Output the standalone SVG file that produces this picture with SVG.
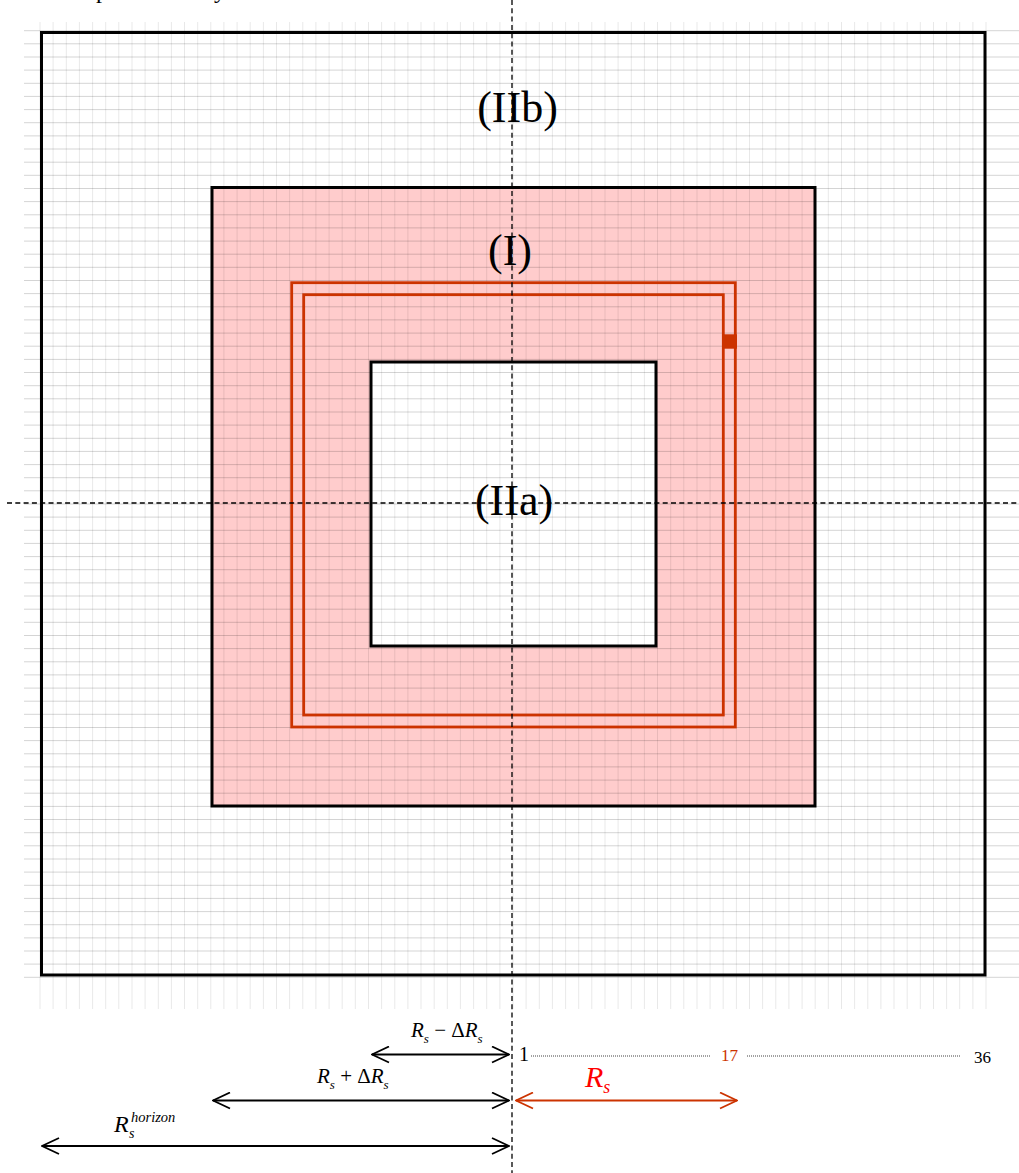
<svg xmlns="http://www.w3.org/2000/svg" width="1019" height="1173" viewBox="0 0 1019 1173">
<style>
.box{fill:none;stroke:#000;stroke-width:3}
.red{fill:none;stroke:#cc3300;stroke-width:2.8}
.gv{fill:none;stroke:#000;stroke-opacity:0.09;stroke-width:1}
.gh{fill:none;stroke:#000;stroke-opacity:0.17;stroke-width:1}
.axis{fill:none;stroke:#000;stroke-width:1.3;stroke-dasharray:5 3.3}
.big{font-family:"Liberation Serif",serif;font-size:44px;fill:#000;text-anchor:middle}
.lbl{font-family:"Liberation Serif",serif}
.it{font-style:italic}
.arr{fill:none;stroke:#000;stroke-width:2}
.arrR{fill:none;stroke:#cc3300;stroke-width:2}
.dot{fill:none;stroke:#444;stroke-width:1;stroke-dasharray:1 1}
</style>
<defs>
<marker id="hk" viewBox="-18 -9 19 18" refX="0" refY="0" markerWidth="19" markerHeight="18" markerUnits="userSpaceOnUse" orient="auto-start-reverse">
<path d="M-17,-8 L0,0 L-17,8" fill="none" stroke="#000" stroke-width="1.8"/>
</marker>
<marker id="hr" viewBox="-18 -9 19 18" refX="0" refY="0" markerWidth="19" markerHeight="18" markerUnits="userSpaceOnUse" orient="auto-start-reverse">
<path d="M-17,-8 L0,0 L-17,8" fill="none" stroke="#cc3300" stroke-width="1.8"/>
</marker>
</defs>
<rect width="1019" height="1173" fill="#fff"/>
<text class="lbl" style="font-size:24px;fill:#000" x="96" y="-2">p</text>
<text class="lbl" style="font-size:24px;fill:#000" x="214" y="-2">y</text>
<g id="region-I-fill">
<rect x="212" y="187.5" width="603" height="618.5" fill="#ffcccc"/>
<rect x="371" y="362" width="285" height="284" fill="#fff"/>
</g>
<g id="grid">
<path class="gv" d="M40,22V1009M53.1,22V1009M66.3,22V1009M79.4,22V1009M92.6,22V1009M105.7,22V1009M118.8,22V1009M132,22V1009M145.1,22V1009M158.3,22V1009M171.4,22V1009M184.5,22V1009M197.7,22V1009M210.8,22V1009M223.9,22V1009M237.1,22V1009M250.2,22V1009M263.4,22V1009M276.5,22V1009M289.6,22V1009M302.8,22V1009M315.9,22V1009M329.1,22V1009M342.2,22V1009M355.3,22V1009M368.5,22V1009M381.6,22V1009M394.8,22V1009M407.9,22V1009M421,22V1009M434.2,22V1009M447.3,22V1009M460.4,22V1009M473.6,22V1009M486.7,22V1009M499.9,22V1009M513,22V1009M526.1,22V1009M539.3,22V1009M552.4,22V1009M565.6,22V1009M578.7,22V1009M591.8,22V1009M605,22V1009M618.1,22V1009M631.3,22V1009M644.4,22V1009M657.5,22V1009M670.7,22V1009M683.8,22V1009M697,22V1009M710.1,22V1009M723.2,22V1009M736.4,22V1009M749.5,22V1009M762.6,22V1009M775.8,22V1009M788.9,22V1009M802.1,22V1009M815.2,22V1009M828.3,22V1009M841.5,22V1009M854.6,22V1009M867.8,22V1009M880.9,22V1009M894,22V1009M907.2,22V1009M920.3,22V1009M933.5,22V1009M946.6,22V1009M959.7,22V1009M972.9,22V1009M986,22V1009"/>
<path class="gh" d="M24,30.7H1019M24,43.8H1019M24,57H1019M24,70.1H1019M24,83.3H1019M24,96.4H1019M24,109.6H1019M24,122.7H1019M24,135.9H1019M24,149H1019M24,162.2H1019M24,175.3H1019M24,188.5H1019M24,201.6H1019M24,214.8H1019M24,227.9H1019M24,241.1H1019M24,254.2H1019M24,267.3H1019M24,280.5H1019M24,293.6H1019M24,306.8H1019M24,319.9H1019M24,333.1H1019M24,346.2H1019M24,359.4H1019M24,372.5H1019M24,385.7H1019M24,398.8H1019M24,412H1019M24,425.1H1019M24,438.3H1019M24,451.4H1019M24,464.6H1019M24,477.7H1019M24,490.8H1019M24,504H1019M24,517.1H1019M24,530.3H1019M24,543.4H1019M24,556.6H1019M24,569.7H1019M24,582.9H1019M24,596H1019M24,609.2H1019M24,622.3H1019M24,635.5H1019M24,648.6H1019M24,661.8H1019M24,674.9H1019M24,688.1H1019M24,701.2H1019M24,714.3H1019M24,727.5H1019M24,740.6H1019M24,753.8H1019M24,766.9H1019M24,780.1H1019M24,793.2H1019M24,806.4H1019M24,819.5H1019M24,832.7H1019M24,845.8H1019M24,859H1019M24,872.1H1019M24,885.3H1019M24,898.4H1019M24,911.6H1019M24,924.7H1019M24,937.9H1019M24,951H1019M24,964.1H1019M24,977.3H1019"/>
</g>
<g id="region-IIb">
<rect class="box" x="41.5" y="32.5" width="943.5" height="942.5"/>
<text class="big" x="517.5" y="122">(IIb)</text>
</g>
<g id="region-I">
<rect class="box" x="212" y="187.5" width="603" height="618.5"/>
<text class="big" x="510" y="265">(I)</text>
</g>
<g id="red-loops">
<rect class="red" x="291.7" y="282.7" width="443.6" height="444.3"/>
<rect class="red" x="303.7" y="294.7" width="419.6" height="420.3"/>
<rect x="722" y="334.3" width="15" height="14.4" fill="#cc3300"/>
</g>
<g id="region-IIa">
<rect class="box" x="371" y="362" width="285" height="284"/>
<text class="big" x="514" y="515">(IIa)</text>
</g>
<g id="axes">
<line class="axis" x1="512" y1="0" x2="512" y2="1173"/>
<line class="axis" x1="7" y1="503" x2="1019" y2="503"/>
</g>
<g id="connectors">
<line class="arr" x1="372" y1="1054.5" x2="509" y2="1054.5" marker-start="url(#hk)" marker-end="url(#hk)"/>
<line class="arr" x1="213" y1="1100.5" x2="509" y2="1100.5" marker-start="url(#hk)" marker-end="url(#hk)"/>
<line class="arr" x1="42" y1="1146" x2="509" y2="1146" marker-start="url(#hk)" marker-end="url(#hk)"/>
<line class="arrR" x1="516" y1="1100.5" x2="737" y2="1100.5" marker-start="url(#hr)" marker-end="url(#hr)"/>
<line class="dot" x1="531" y1="1056" x2="711" y2="1056"/>
<line class="dot" x1="747" y1="1056" x2="960" y2="1056"/>
</g>
<g id="labels">
<text class="lbl" style="font-size:21px;fill:#000" x="411" y="1037"><tspan class="it">R</tspan><tspan class="it" style="font-size:13px" dy="6">s</tspan><tspan dy="-6"> − Δ</tspan><tspan class="it">R</tspan><tspan class="it" style="font-size:13px" dy="6">s</tspan></text>
<text class="lbl" style="font-size:21px;fill:#000" x="317" y="1083"><tspan class="it">R</tspan><tspan class="it" style="font-size:13px" dy="6">s</tspan><tspan dy="-6"> + Δ</tspan><tspan class="it">R</tspan><tspan class="it" style="font-size:13px" dy="6">s</tspan></text>
<text class="lbl it" style="font-size:24px;fill:#000" x="114" y="1131.5">R</text>
<text class="lbl it" style="font-size:14.5px;fill:#000" x="131" y="1121.5">horizon</text>
<text class="lbl it" style="font-size:14px;fill:#000" x="129" y="1138">s</text>
<text class="lbl it" style="font-size:30px;fill:#ff0000" x="585" y="1087">R<tspan style="font-size:18px" dy="6">s</tspan></text>
<text class="lbl" style="font-size:20px;fill:#000" x="519" y="1061">1</text>
<text class="lbl" style="font-size:17px;fill:#cc3300" x="721" y="1061">17</text>
<text class="lbl" style="font-size:17px;fill:#000" x="974" y="1063">36</text>
</g>
</svg>
